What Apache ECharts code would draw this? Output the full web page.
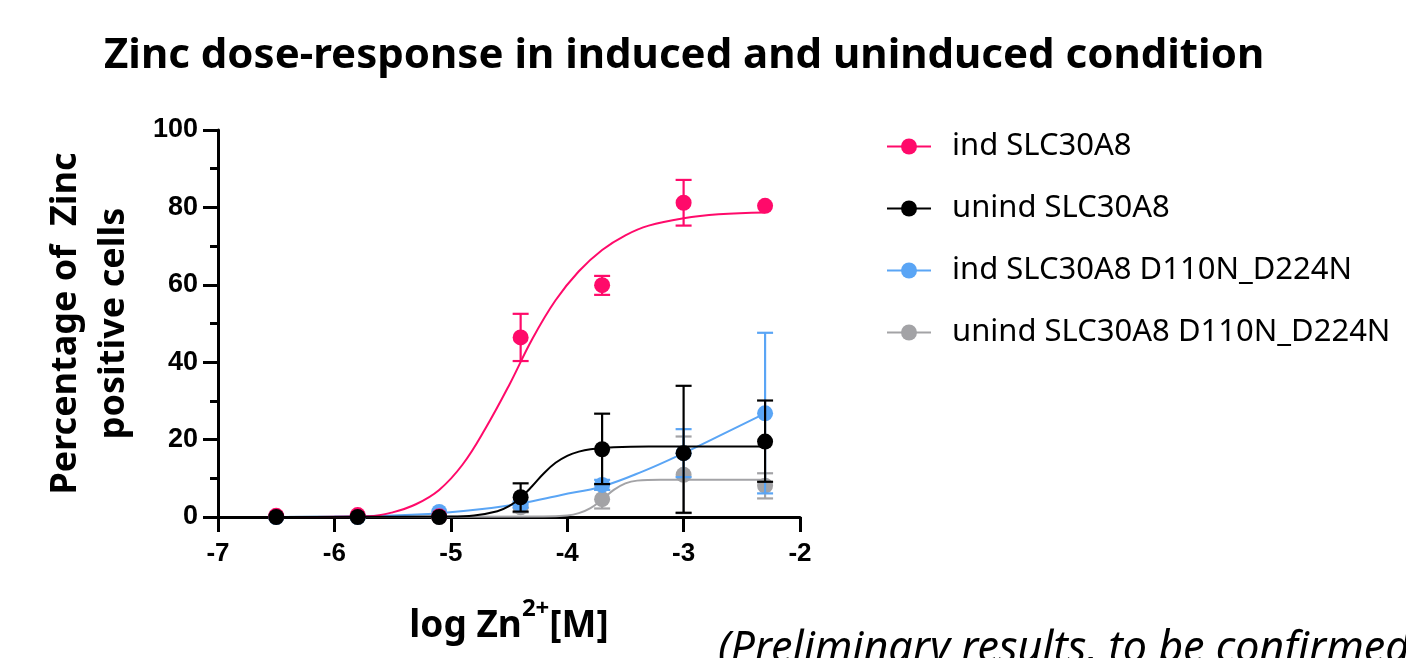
<!DOCTYPE html>
<html>
<head>
<meta charset="utf-8">
<script src="https://cdn.jsdelivr.net/npm/echarts@6/dist/echarts.min.js"></script>
<style>
  html, body { margin: 0; padding: 0; background: #ffffff; }
  #chart { width: 1406px; height: 658px; }
</style>
</head>
<body>
<div id="chart"></div>
<script>
// ---- data ----
const titleText = "Zinc dose-response in induced and uninduced condition";
const seriesNames = ["ind SLC30A8", "unind SLC30A8", "ind SLC30A8 D110N_D224N", "unind SLC30A8 D110N_D224N"];
const xTicks = [-7, -6, -5, -4, -3, -2];
const yTicks = [0, 20, 40, 60, 80, 100];

const logDose = [-6.5, -5.8, -5.1, -4.4, -3.7, -3.0, -2.3];

// ind SLC30A8
const indMean = [0.3, 0.5, 0.2, 46.4, 59.9, 81.2, 80.4];
const indLow  = [null, null, null, 40.3, 57.4, 75.3, null];
const indHigh = [null, null, null, 52.5, 62.3, 87.1, null];
// unind SLC30A8
const unindMean = [0, 0, 0, 5.1, 17.5, 16.5, 19.5];
const unindLow  = [null, null, null, 1.4, 8.5, 1.1, 9.1];
const unindHigh = [null, null, null, 8.7, 26.7, 33.9, 30.1];
// ind SLC30A8 D110N_D224N
const mutIndMean = [0, 0, 1.3, 3.2, 8.3, 16.5, 26.8];
const mutIndLow  = [null, null, null, 2.4, 7.0, 10.3, 6.1];
const mutIndHigh = [null, null, null, 4.0, 9.6, 22.7, 47.6];
// unind SLC30A8 D110N_D224N
const mutUnindMean = [0, 0, 0, 2.5, 4.6, 10.9, 8.1];
const mutUnindLow  = [null, null, null, 1.2, 2.2, 1.0, 4.8];
const mutUnindHigh = [null, null, null, 3.8, 7.0, 20.8, 11.3];

// fitted curves, sampled by reading the picture
const indCurveX = [-6.5, -5.7, -5.5, -5.3, -5.1, -4.9, -4.7, -4.5, -4.3, -4.1, -3.9, -3.7, -3.5, -3.3, -3.0, -2.7, -2.3];
const indCurveY = [0, 0.2, 1.2, 3.3, 7.0, 13.5, 23, 34, 46, 56, 63.5, 69, 72.8, 75.3, 77.2, 78.2, 78.7];
const unindCurveX = [-6.5, -5.0, -4.8, -4.6, -4.5, -4.4, -4.3, -4.2, -4.1, -4.0, -3.9, -3.8, -3.6, -3.3, -2.3];
const unindCurveY = [0, 0.1, 0.4, 1.5, 2.8, 5.0, 8.0, 11.3, 14.0, 15.8, 16.9, 17.5, 18.0, 18.2, 18.2];
const mutIndCurveX = [-6.5, -6.0, -5.5, -5.1, -4.75, -4.4, -4.05, -3.7, -3.35, -3.0, -2.65, -2.3];
const mutIndCurveY = [0, 0.1, 0.4, 1.0, 2.0, 3.5, 5.7, 7.9, 11.8, 16.5, 21.6, 26.8];
const mutUnindCurveX = [-6.5, -4.2, -4.0, -3.9, -3.8, -3.7, -3.6, -3.5, -3.4, -3.2, -2.3];
const mutUnindCurveY = [0, 0.1, 0.4, 1.0, 2.3, 4.5, 7.0, 8.7, 9.4, 9.6, 9.6];

const colors = ["#ff0a6a", "#000000", "#5aa5f5", "#a3a3a6"];

// ---- build ----
function zip(a, b) { return a.map((v, i) => [v, b[i]]); }
function errData(x, lo, hi) {
  const out = [];
  x.forEach((v, i) => { if (lo[i] != null && hi[i] != null) out.push([v, lo[i], hi[i]]); });
  return out;
}

const groups = [
  { name: seriesNames[3], color: colors[3], cx: mutUnindCurveX, cy: mutUnindCurveY, m: mutUnindMean, lo: mutUnindLow, hi: mutUnindHigh, z: 2 },
  { name: seriesNames[2], color: colors[2], cx: mutIndCurveX, cy: mutIndCurveY, m: mutIndMean, lo: mutIndLow, hi: mutIndHigh, z: 3 },
  { name: seriesNames[0], color: colors[0], cx: indCurveX, cy: indCurveY, m: indMean, lo: indLow, hi: indHigh, z: 4 },
  { name: seriesNames[1], color: colors[1], cx: unindCurveX, cy: unindCurveY, m: unindMean, lo: unindLow, hi: unindHigh, z: 5 }
];

const series = [];
groups.forEach(g => {
  series.push({
    name: g.name, type: 'line', data: zip(g.cx, g.cy), smooth: 0.4,
    showSymbol: false, symbol: 'circle', symbolSize: 16,
    lineStyle: { color: g.color, width: 2 }, itemStyle: { color: g.color },
    z: g.z, silent: true
  });
  series.push({
    name: g.name, type: 'custom', data: errData(logDose, g.lo, g.hi), z: g.z,
    renderItem: function (params, api) {
      const x = api.value(0);
      const p1 = api.coord([x, api.value(1)]);
      const p2 = api.coord([x, api.value(2)]);
      const hw = 8;
      const st = { stroke: g.color, lineWidth: 2.2 };
      return {
        type: 'group',
        children: [
          { type: 'line', shape: { x1: p1[0], y1: p1[1], x2: p2[0], y2: p2[1] }, style: st },
          { type: 'line', shape: { x1: p1[0] - hw, y1: p1[1], x2: p1[0] + hw, y2: p1[1] }, style: st },
          { type: 'line', shape: { x1: p2[0] - hw, y1: p2[1], x2: p2[0] + hw, y2: p2[1] }, style: st }
        ]
      };
    }
  });
  series.push({
    name: g.name, type: 'scatter', data: zip(logDose, g.m), symbol: 'circle', symbolSize: 16,
    itemStyle: { color: g.color, opacity: 1 }, z: g.z
  });
});

const chart = echarts.init(document.getElementById('chart'), null, { renderer: 'canvas' });
chart.setOption({
  animation: false,
  backgroundColor: '#ffffff',
  title: {
    text: titleText, left: 99, top: 30,
    textStyle: { fontFamily: 'Noto Sans', fontWeight: 'bold', fontSize: 42, color: '#000' }
  },
  legend: {
    data: seriesNames, orient: 'vertical', left: 881, top: 126,
    itemWidth: 44, itemHeight: 20, itemGap: 31,
    textStyle: { fontFamily: 'Noto Sans', fontSize: 31, color: '#000', padding: [0, 0, 0, 16] }
  },
  grid: { left: 218, right: 606, top: 130, bottom: 141, containLabel: false },
  xAxis: {
    type: 'value', min: xTicks[0], max: xTicks[xTicks.length - 1], interval: 1,
    name: '{a|log Zn}{s|2+}{a|[M]}', nameLocation: 'middle', nameGap: 80,
    nameTextStyle: {
      rich: {
        a: { fontFamily: 'Noto Sans', fontWeight: 'bold', fontSize: 37, color: '#000', verticalAlign: 'bottom', lineHeight: 48 },
        s: { fontFamily: 'Noto Sans', fontWeight: 'bold', fontSize: 24, color: '#000', verticalAlign: 'top', lineHeight: 48, padding: [0, 0, 22, 0] }
      }
    },
    axisLine: { onZero: false, lineStyle: { color: '#000', width: 3 } },
    axisTick: { show: true, inside: false, length: 15, lineStyle: { color: '#000', width: 3 } },
    axisLabel: { margin: 24, fontFamily: 'Liberation Sans', fontWeight: 'bold', fontSize: 26, color: '#000' },
    splitLine: { show: false }
  },
  yAxis: {
    type: 'value', min: yTicks[0], max: yTicks[yTicks.length - 1], interval: 20,
    name: 'Percentage of  Zinc\npositive cells', nameLocation: 'middle', nameGap: 80, nameRotate: 90,
    nameTextStyle: { fontFamily: 'Noto Sans', fontWeight: 'bold', fontSize: 36, color: '#000', lineHeight: 48, align: 'center' },
    axisLine: { lineStyle: { color: '#000', width: 3 } },
    axisTick: { show: true, inside: false, length: 15, lineStyle: { color: '#000', width: 3 } },
    minorTick: { show: true, splitNumber: 2, length: 8, lineStyle: { color: '#000', width: 3 } },
    axisLabel: { margin: 20, fontFamily: 'Liberation Sans', fontWeight: 'bold', fontSize: 27, color: '#000' },
    splitLine: { show: false }
  },
  graphic: [{
    type: 'text', left: 718, top: 628,
    style: { text: '(Preliminary results, to be confirmed)', fontFamily: 'Noto Sans', fontStyle: 'italic', fontSize: 43, fill: '#000' }
  }],
  series: series
});
</script>
</body>
</html>
